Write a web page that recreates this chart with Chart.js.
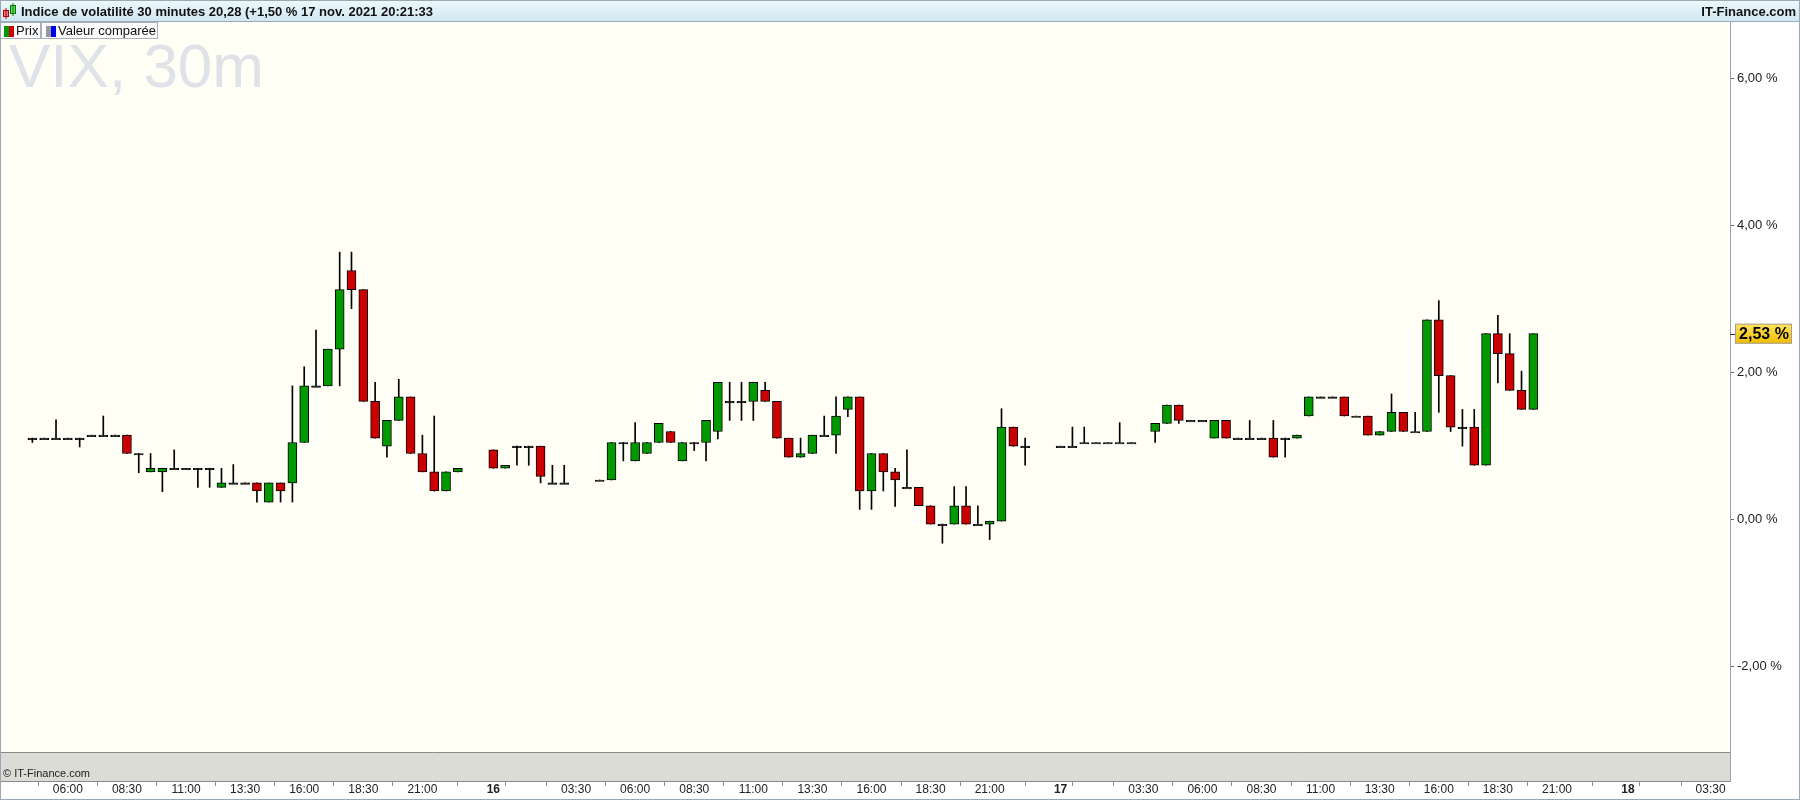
<!DOCTYPE html>
<html>
<head>
<meta charset="utf-8">
<title>VIX, 30m</title>
<script src="https://cdn.jsdelivr.net/npm/chart.js@4.4.0/dist/chart.umd.min.js"></script>
<style>
  body { margin: 0; background: #fff; }
  #box { width: 1800px; height: 800px; }
</style>
</head>
<body>
<div id="box"><canvas id="vix" width="1800" height="800"></canvas></div>
<script>
// trading sessions (start time "DD HH:MM", number of 30 min bars)
var sessionStart = ['15 04:30', '16 00:00', '16 04:30', '17 00:00', '17 04:00'];
var sessionBars  = [37, 7, 37, 7, 33];

// bar values (variation in %)
var openVals = [
  1.11, 1.11, 1.11, 1.11, 1.11, 1.15, 1.15, 1.15, 1.15, 0.90,
  0.65, 0.65, 0.70, 0.70, 0.70, 0.70, 0.44, 0.50, 0.50, 0.50,
  0.24, 0.50, 0.50, 1.05, 1.82, 1.82, 2.32, 3.39, 3.13, 1.61,
  1.00, 1.35, 1.67, 0.90, 0.65, 0.39, 0.65,
  0.95, 0.70, 1.00, 1.00, 1.00, 0.50, 0.50,
  0.54, 0.54, 1.05, 0.80, 0.90, 1.05, 1.20, 0.80, 1.05, 1.05,
  1.20, 1.61, 1.61, 1.61, 1.76, 1.61, 1.11, 0.85, 0.90, 1.15,
  1.15, 1.50, 1.67, 0.39, 0.90, 0.65, 0.44, 0.44, 0.19, -0.06,
  -0.06, 0.19, -0.06, -0.06, -0.02, 1.26, 1.00,
  1.00, 1.00, 1.05, 1.05, 1.05, 1.05, 1.05,
  1.20, 1.31, 1.56, 1.35, 1.35, 1.11, 1.35, 1.11, 1.11, 1.11,
  1.11, 1.11, 1.11, 1.41, 1.67, 1.67, 1.67, 1.41, 1.41, 1.15,
  1.20, 1.46, 1.20, 1.20, 2.72, 1.96, 1.26, 1.26, 0.74, 2.53,
  2.26, 1.76, 1.50
];
var highVals = [
  1.11, 1.11, 1.36, 1.11, 1.11, 1.15, 1.41, 1.15, 1.15, 0.90,
  0.90, 0.70, 0.95, 0.70, 0.70, 0.70, 0.70, 0.75, 0.50, 0.50,
  0.50, 0.50, 1.82, 2.08, 2.58, 2.32, 3.64, 3.64, 3.13, 1.87,
  1.35, 1.91, 1.67, 1.15, 1.41, 0.65, 0.70,
  0.95, 0.74, 1.00, 1.00, 1.00, 0.74, 0.74,
  0.54, 1.05, 1.05, 1.32, 1.05, 1.31, 1.20, 1.05, 1.05, 1.35,
  1.87, 1.87, 1.87, 1.87, 1.87, 1.61, 1.11, 1.11, 1.15, 1.41,
  1.67, 1.67, 1.67, 0.90, 0.90, 0.70, 0.95, 0.44, 0.19, -0.06,
  0.45, 0.45, 0.19, -0.02, 1.51, 1.26, 1.11,
  1.00, 1.26, 1.26, 1.05, 1.05, 1.32, 1.05,
  1.31, 1.56, 1.56, 1.35, 1.35, 1.35, 1.35, 1.11, 1.35, 1.11,
  1.35, 1.11, 1.15, 1.67, 1.67, 1.67, 1.67, 1.41, 1.41, 1.20,
  1.71, 1.46, 1.46, 2.72, 2.98, 1.96, 1.50, 1.50, 2.53, 2.78,
  2.53, 2.02, 2.53
];
var lowVals = [
  1.05, 1.11, 1.11, 1.11, 0.99, 1.15, 1.15, 1.15, 0.90, 0.64,
  0.65, 0.38, 0.70, 0.70, 0.44, 0.44, 0.44, 0.50, 0.50, 0.24,
  0.24, 0.24, 0.24, 1.05, 1.82, 1.82, 1.82, 2.87, 1.61, 1.11,
  0.85, 1.35, 0.90, 0.65, 0.39, 0.39, 0.65,
  0.70, 0.70, 0.74, 0.74, 0.50, 0.50, 0.50,
  0.54, 0.54, 0.80, 0.80, 0.90, 1.05, 1.05, 0.80, 0.94, 0.80,
  1.10, 1.35, 1.35, 1.35, 1.61, 1.11, 0.85, 0.85, 0.90, 1.15,
  0.90, 1.40, 0.14, 0.14, 0.39, 0.18, 0.44, 0.19, -0.06, -0.32,
  -0.06, -0.06, -0.06, -0.27, -0.02, 1.00, 0.74,
  1.00, 1.00, 1.05, 1.05, 1.05, 1.05, 1.05,
  1.05, 1.31, 1.31, 1.35, 1.35, 1.11, 1.11, 1.11, 1.11, 1.11,
  0.85, 0.85, 1.11, 1.41, 1.67, 1.67, 1.41, 1.41, 1.15, 1.15,
  1.20, 1.20, 1.20, 1.20, 1.46, 1.20, 1.00, 0.74, 0.74, 1.86,
  1.76, 1.50, 1.50
];
var closeVals = [
  1.11, 1.11, 1.11, 1.11, 1.11, 1.15, 1.15, 1.15, 0.90, 0.90,
  0.70, 0.70, 0.70, 0.70, 0.70, 0.70, 0.50, 0.50, 0.50, 0.39,
  0.50, 0.39, 1.05, 1.82, 1.82, 2.32, 3.13, 3.13, 1.61, 1.11,
  1.35, 1.67, 0.90, 0.65, 0.39, 0.65, 0.70,
  0.70, 0.74, 1.00, 1.00, 0.59, 0.50, 0.50,
  0.54, 1.05, 1.05, 1.05, 1.05, 1.31, 1.05, 1.05, 1.05, 1.35,
  1.87, 1.61, 1.61, 1.87, 1.61, 1.11, 0.85, 0.90, 1.15, 1.15,
  1.41, 1.67, 0.39, 0.90, 0.65, 0.54, 0.44, 0.19, -0.06, -0.06,
  0.19, -0.06, -0.06, -0.02, 1.26, 1.00, 1.00,
  1.00, 1.00, 1.05, 1.05, 1.05, 1.05, 1.05,
  1.31, 1.56, 1.35, 1.35, 1.35, 1.35, 1.11, 1.11, 1.11, 1.11,
  0.85, 1.11, 1.15, 1.67, 1.67, 1.67, 1.41, 1.41, 1.15, 1.20,
  1.46, 1.20, 1.20, 2.72, 1.96, 1.26, 1.26, 0.74, 2.53, 2.26,
  1.76, 1.50, 2.53
];

// axis ticks
var tickTimes = [
  '15 03:30', '15 06:00', '15 08:30', '15 11:00', '15 13:30', '15 16:00', '15 18:30', '15 21:00',
  '16 00:00', '16 01:00', '16 03:30', '16 06:00', '16 08:30', '16 11:00', '16 13:30', '16 16:00', '16 18:30', '16 21:00',
  '17 00:00', '17 01:00', '17 03:30', '17 06:00', '17 08:30', '17 11:00', '17 13:30', '17 16:00', '17 18:30', '17 21:00',
  '18 00:00', '18 01:00', '18 03:30'
];
var tickLabels = [
  '', '06:00', '08:30', '11:00', '13:30', '16:00', '18:30', '21:00',
  '16', '', '03:30', '06:00', '08:30', '11:00', '13:30', '16:00', '18:30', '21:00',
  '17', '', '03:30', '06:00', '08:30', '11:00', '13:30', '16:00', '18:30', '21:00',
  '18', '', '03:30'
];
var yTicks = [-2, 0, 2, 4, 6];

var titleText = 'Indice de volatilité 30 minutes 20,28 (+1,50 % 17 nov. 2021 20:21:33';
var watermark = 'VIX, 30m';

var FONT = '"Liberation Sans", Arial, sans-serif';
var UP = '#009900', DOWN = '#cc0000';

// hours since 15 nov 00:00
function hoursOf(s){
  var d = parseInt(s.substr(0, 2), 10);
  var h = parseInt(s.substr(3, 2), 10);
  var m = parseInt(s.substr(6, 2), 10);
  return (d - 15) * 24 + h + m / 60;
}

function pct(v){
  return v.toFixed(2).replace('.', ',') + ' %';
}

var barHours = [];
sessionStart.forEach(function(s, i){
  var start = hoursOf(s);
  for (var k = 0; k < sessionBars[i]; k++) barHours.push(start + k * 0.5);
});

var bodies = barHours.map(function(t, i){ return {x: t, y: [openVals[i], closeVals[i]]}; });
var wicks  = barHours.map(function(t, i){ return {x: t, y: [lowVals[i], highVals[i]]}; });

var frame = {
  id: 'frame',
  beforeDraw: function(chart){
    var ctx = chart.ctx, a = chart.chartArea;
    ctx.save();
    ctx.fillStyle = '#ffffff';
    ctx.fillRect(0, 0, chart.width, chart.height);
    ctx.fillStyle = '#fffff6';
    ctx.fillRect(a.left, a.top, a.right - a.left, a.bottom - a.top);
    // watermark
    ctx.fillStyle = '#dfe2e6';
    ctx.font = '62px ' + FONT;
    ctx.textBaseline = 'alphabetic';
    ctx.fillText(watermark, 9, 87);
    ctx.restore();
  },
  afterDraw: function(chart){
    var ctx = chart.ctx, a = chart.chartArea, W = chart.width;
    ctx.save();

    // grey band under the plot
    ctx.fillStyle = '#dcdcd6';
    ctx.fillRect(0, a.bottom, a.right, 29);
    ctx.strokeStyle = '#8a8a8a';
    ctx.lineWidth = 1;
    ctx.beginPath();
    ctx.moveTo(0, a.bottom + 0.5); ctx.lineTo(a.right, a.bottom + 0.5);
    ctx.moveTo(0, a.bottom + 29.5); ctx.lineTo(a.right, a.bottom + 29.5);
    ctx.stroke();
    ctx.strokeStyle = '#98a4b0';
    ctx.beginPath();
    ctx.moveTo(a.right + 0.5, a.top); ctx.lineTo(a.right + 0.5, a.bottom + 30);
    ctx.stroke();
    ctx.fillStyle = '#222';
    ctx.font = '11px ' + FONT;
    ctx.textAlign = 'left';
    ctx.textBaseline = 'alphabetic';
    ctx.fillText('\u00a9 IT-Finance.com', 3, a.bottom + 25);

    // title bar
    var g = ctx.createLinearGradient(0, 0, 0, 22);
    g.addColorStop(0, '#eef8fd');
    g.addColorStop(1, '#cfe6f2');
    ctx.fillStyle = g;
    ctx.fillRect(0, 0, W, 22);
    ctx.strokeStyle = '#9aaab8';
    ctx.beginPath();
    ctx.moveTo(0, 21.5); ctx.lineTo(W, 21.5);
    ctx.stroke();
    // small candle icon
    ctx.fillStyle = '#f08080'; ctx.strokeStyle = '#b00000';
    ctx.fillRect(3.5, 10.5, 5, 6); ctx.strokeRect(3.5, 10.5, 5, 6);
    ctx.beginPath(); ctx.moveTo(6, 8); ctx.lineTo(6, 19); ctx.stroke();
    ctx.fillStyle = '#66dd66'; ctx.strokeStyle = '#007700';
    ctx.fillRect(10.5, 5.5, 5, 8); ctx.strokeRect(10.5, 5.5, 5, 8);
    ctx.beginPath(); ctx.moveTo(13, 3); ctx.lineTo(13, 16); ctx.stroke();
    ctx.fillStyle = '#111';
    ctx.font = 'bold 13px ' + FONT;
    ctx.fillText(titleText, 21, 16);
    ctx.textAlign = 'right';
    ctx.fillText('IT-Finance.com', W - 4, 16);

    // series legend boxes
    ctx.textAlign = 'left';
    ctx.font = '13px ' + FONT;
    ctx.fillStyle = '#fbfbfb';
    ctx.strokeStyle = '#a6b0ba';
    ctx.fillRect(0.5, 22.5, 40, 16); ctx.strokeRect(0.5, 22.5, 40, 16);
    ctx.fillRect(41.5, 22.5, 116, 16); ctx.strokeRect(41.5, 22.5, 116, 16);
    ctx.fillStyle = UP;   ctx.fillRect(4, 26, 5, 11);
    ctx.fillStyle = DOWN; ctx.fillRect(9, 26, 5, 11);
    ctx.fillStyle = '#999'; ctx.fillRect(46, 26, 5, 11);
    ctx.fillStyle = '#0000ee'; ctx.fillRect(51, 26, 5, 11);
    ctx.fillStyle = '#111';
    ctx.fillText('Prix', 16, 35);
    ctx.fillText('Valeur comparée', 58, 35);

    // last value tag
    var last = closeVals[closeVals.length - 1];
    var y = chart.scales.y.getPixelForValue(last);
    var tg = ctx.createLinearGradient(0, y - 10, 0, y + 10);
    tg.addColorStop(0, '#ffe45c');
    tg.addColorStop(1, '#f2bc00');
    ctx.fillStyle = tg;
    ctx.fillRect(a.right + 5, y - 10, 57, 20);
    ctx.strokeStyle = '#a0a0a0';
    ctx.strokeRect(a.right + 5.5, y - 9.5, 56, 19);
    ctx.strokeStyle = '#333';
    ctx.beginPath(); ctx.moveTo(a.right, Math.round(y) + 0.5); ctx.lineTo(a.right + 5, Math.round(y) + 0.5); ctx.stroke();
    ctx.fillStyle = '#000';
    ctx.font = 'bold 16px ' + FONT;
    ctx.textAlign = 'center';
    ctx.textBaseline = 'middle';
    ctx.fillText(pct(last), a.right + 34, y + 1);

    // outer frame
    ctx.strokeStyle = '#9aa8b5';
    ctx.strokeRect(0.5, 0.5, W - 1, chart.height - 1);
    ctx.restore();
  }
};

var chart = new Chart(document.getElementById('vix'), {
  type: 'bar',
  data: {
    datasets: [
      {
        label: 'Prix',
        data: bodies,
        order: 0,
        grouped: false,
        barThickness: 9,
        minBarLength: 1.5,
        borderWidth: 1,
        borderColor: '#000',
        borderSkipped: false,
        backgroundColor: function(c){
          var i = c.dataIndex;
          if (closeVals[i] == openVals[i]) return '#000'; // doji = plain line
          return closeVals[i] > openVals[i] ? UP : DOWN;
        }
      },
      {
        label: 'mèches',
        data: wicks,
        order: 1,
        grouped: false,
        barThickness: 1,
        borderWidth: 0,
        backgroundColor: '#000'
      }
    ]
  },
  options: {
    responsive: false,
    animation: false,
    devicePixelRatio: 1,
    layout: { padding: { top: 22, left: 0, right: 0, bottom: 0 } },
    plugins: {
      legend: { display: false },
      tooltip: { enabled: false }
    },
    scales: {
      x: {
        type: 'linear',
        min: 3.13,
        max: 76.32,
        offset: false,
        afterBuildTicks: function(s){
          s.ticks = tickTimes.map(function(t){ return {value: hoursOf(t)}; });
        },
        afterFit: function(s){ s.height = 48; },
        grid: { drawOnChartArea: false, drawTicks: true, tickLength: 34, tickColor: '#8c8c8c' },
        border: { display: true, color: '#8a8a8a' },
        ticks: {
          autoSkip: false,
          maxRotation: 0,
          padding: -4,
          color: '#222',
          font: function(c){
            var lab = tickLabels[c.index] || '';
            return { family: FONT, size: 12, weight: lab.length == 2 ? 'bold' : 'normal' };
          },
          callback: function(v, i){ return tickLabels[i]; }
        }
      },
      y: {
        position: 'right',
        min: -3.16,
        max: 6.77,
        afterBuildTicks: function(s){
          s.ticks = yTicks.map(function(v){ return {value: v}; });
        },
        afterFit: function(s){ s.width = 70; },
        grid: { drawOnChartArea: false, drawTicks: true, tickLength: 4, tickColor: '#666' },
        border: { display: true, color: '#98a4b0' },
        ticks: {
          padding: 3,
          color: '#222',
          font: { family: FONT, size: 13 },
          callback: function(v){ return pct(v); }
        }
      }
    }
  },
  plugins: [frame]
});
</script>
</body>
</html>
